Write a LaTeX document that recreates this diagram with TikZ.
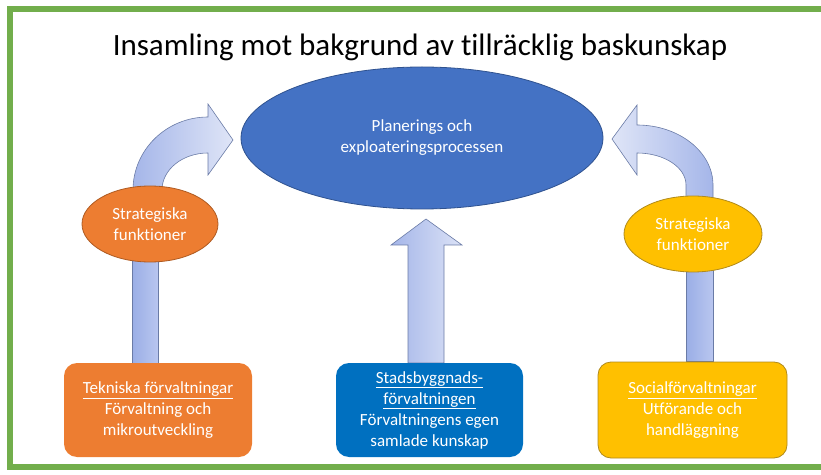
\documentclass[tikz,border=0pt]{standalone}
\usepackage{fontspec}
\setmainfont{Carlito}[Ligatures=NoCommon]
\usetikzlibrary{shapes.geometric,backgrounds}

\definecolor{framegreen}{HTML}{72AE4C}
\definecolor{planblue}{HTML}{4472C4}
\definecolor{planedge}{HTML}{2F528F}
\definecolor{tekorange}{HTML}{ED7D31}
\definecolor{tekedge}{HTML}{AE5A21}
\definecolor{socyellow}{HTML}{FFC000}
\definecolor{socedge}{HTML}{B08A1C}
\definecolor{stadblue}{HTML}{0070C0}
\definecolor{arrowline}{HTML}{6A7BA6}
\definecolor{shaftdark}{HTML}{9AAEE6}
\definecolor{shaftlight}{HTML}{B9C6EF}
\definecolor{curvedark}{HTML}{A5B6E9}
\definecolor{curvelight}{HTML}{DFE5F7}

\begin{document}
\begin{tikzpicture}[x=1pt,y=1pt,
    txt/.style={text=white, align=center, font=\fontsize{17}{21}\selectfont},
    blob/.style={ellipse, txt, inner sep=0pt, line width=.8pt},
    unitbox/.style={rectangle, rounded corners=13pt, txt, inner sep=0pt, minimum width=188pt, minimum height=94pt},
    shaft/.style={draw=arrowline, line width=.6pt, line join=miter}
    ]
    \useasboundingbox (0,0) rectangle (821,474);
    \draw[line width=6pt, framegreen] (9.5,7) rectangle (850,464.5);

    \node[font=\fontsize{31}{36}\selectfont] (title) at (420,427) {Insamling mot bakgrund av tillräcklig baskunskap};

    \node[blob, fill=planblue, draw=planedge, minimum width=362pt, minimum height=142pt] (plan) at (422,336) {Planerings och\\exploateringsprocessen};
    \node[blob, fill=tekorange, draw=tekedge, minimum width=136pt, minimum height=76pt] (sf1) at (150,250) {Strategiska\\funktioner};
    \node[blob, fill=socyellow, draw=socedge, minimum width=138pt, minimum height=76pt] (sf2) at (693,240) {Strategiska\\funktioner};

    \node[unitbox, fill=tekorange] (tek) at (158,64) {\underline{Tekniska förvaltningar}\\Förvaltning och\\mikroutveckling};
    \node[unitbox, fill=stadblue, minimum width=187pt] (stad) at (429.5,64) {\underline{Stadsbyggnads-}\\\underline{förvaltningen}\\Förvaltningens egen\\samlade kunskap};
    \node[unitbox, fill=socyellow, draw=socedge, line width=.8pt, minimum width=189pt, minimum height=96pt] (soc) at (692.5,64) {\underline{Socialförvaltningar}\\Utförande och\\handläggning};

 \begin{pgfonlayer}{background}
    % raka pilar
    \draw[shaft, left color=shaftdark, right color=shaftlight] (132,0 |- tek.north) rectangle (158,0 |- sf1.center);
    \draw[shaft, left color=shaftdark, right color=shaftlight] (686,0 |- soc.north) rectangle (713,0 |- sf2.center);
    \draw[shaft, left color=curvedark!95!shaftdark, right color=curvelight!90!shaftlight] (408,0 |- stad.north) -- (408,229) -- (391,229) -- (426,255) -- (462,229) -- (444,229) -- (444,0 |- stad.north) -- cycle;
    % böjda pilar
    \draw[shaft, left color=curvedark, right color=curvelight]
        (133,0 |- sf1.center) -- (133,284) arc[start angle=180, end angle=90, x radius=75, y radius=73]
        -- (208,370) -- (233,334) -- (208,299) -- (208,321)
        arc[start angle=90, end angle=180, x radius=46, y radius=37] -- (162,0 |- sf1.center) -- cycle;
    \draw[shaft, left color=curvelight, right color=curvedark]
        (713,0 |- sf2.center) -- (713,289) arc[start angle=0, end angle=90, x radius=76, y radius=60]
        -- (637,369) -- (612,335) -- (637,299) -- (637,321)
        arc[start angle=90, end angle=0, x radius=49, y radius=32] -- (686,0 |- sf2.center) -- cycle;
 \end{pgfonlayer}
\end{tikzpicture}
\end{document}
